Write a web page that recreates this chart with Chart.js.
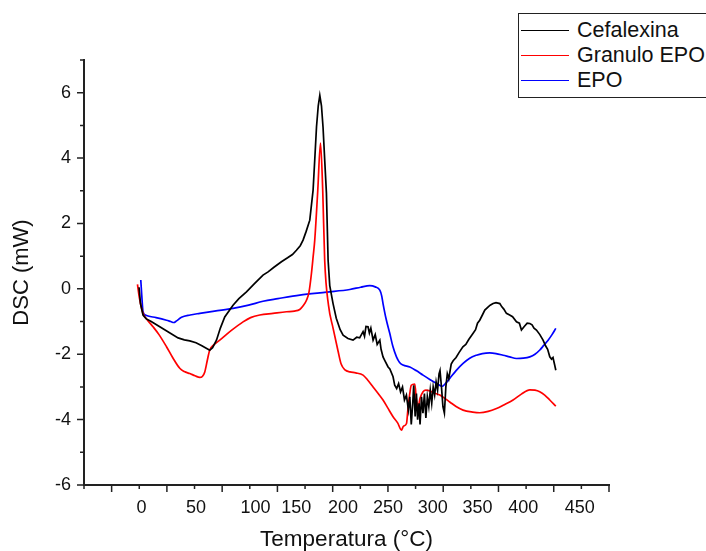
<!DOCTYPE html>
<html>
<head>
<meta charset="utf-8">
<script src="https://cdn.jsdelivr.net/npm/chart.js@4.4.1/dist/chart.umd.min.js"></script>
<style>
  html, body { margin: 0; padding: 0; background: #fff; overflow: hidden; }
  #wrap { position: relative; width: 706px; height: 551px; }
  #legend {
    position: absolute; left: 518px; top: 13px; width: 200px; height: 85px;
    border: 1px solid #222; box-sizing: border-box; background: #fff;
    font-family: 'Liberation Sans', Arial, sans-serif; font-size: 21.5px; color: #111;
  }
  #legend .item { position: absolute; left: 2px; display: flex; align-items: center; height: 24px; white-space: nowrap; }
  #legend .sw { width: 48px; height: 0; border-top: 1.5px solid; margin-right: 8px; }
</style>
</head>
<body>
<div id="wrap">
  <canvas id="dscChart" width="706" height="551"></canvas>
  <div id="legend"></div>
</div>
<script>
// DSC curves (temperature in °C, heat flow in mW)
const cefalexinaT = [-2.5, -1, 1.6, 5, 10, 18.8, 28, 37.6, 44, 49.6, 56, 62, 70.1, 73, 77, 81, 85.5, 94, 100, 107.8,
  116, 124.8, 130, 136, 143.7, 150, 155, 159.1, 163, 165.9, 169, 172.8, 176.2, 178, 179.7, 181.5, 183.1, 184.8, 186.4, 188.2,
  189.9, 191.6, 193.3, 196.7, 200, 204, 207, 212, 217.2, 221, 224, 227.5, 229, 230.5, 232.6, 234, 235.5, 237.8, 240, 242,
  244.7, 246, 248, 250, 253.2, 255, 258.3, 260, 262, 264, 266, 268, 270, 272, 274, 275.5, 277, 278.5, 279.5, 281,
  282.3, 283.5, 285, 286, 287.5, 289, 290.5, 292, 293.5, 295, 296.5, 298, 299.5, 301, 302.5, 304, 305.5, 306.5, 308, 309.5,
  311, 312.5, 314, 315.5, 318, 320, 323, 326, 330, 333, 336, 340.5, 343, 345, 347.3, 350, 352.5, 356, 358, 361,
  364, 367.9, 370, 372, 374.7, 378, 381, 385, 388, 390.1, 393, 396, 398.7, 401, 403, 405.5, 409, 412.3, 415, 417,
  419.2, 421, 422.5, 424, 425.4];
const cefalexinaDSC = [0.05, -0.45, -0.8, -0.92, -1.0, -1.16, -1.33, -1.5, -1.56, -1.59, -1.65, -1.74, -1.88, -1.8, -1.57, -1.2, -0.86, -0.5, -0.3, -0.09,
  0.16, 0.42, 0.52, 0.66, 0.83, 0.95, 1.05, 1.18, 1.32, 1.49, 1.75, 2.1, 3.02, 4.0, 4.95, 5.6, 5.92, 5.6, 4.95, 3.9,
  2.92, 0.88, 0.1, -0.45, -0.9, -1.25, -1.42, -1.52, -1.57, -1.48, -1.5, -1.31, -1.45, -1.15, -1.16, -1.35, -1.2, -1.57, -1.4, -1.7,
  -1.57, -1.85, -2.08, -2.2, -2.39, -2.45, -2.69, -2.95, -3.05, -2.9, -3.15, -3.0, -3.4, -3.25, -3.7, -3.3, -4.15, -3.5, -2.95, -3.9,
  -3.2, -4.0, -3.5, -4.15, -3.3, -3.8, -3.2, -3.95, -3.3, -3.6, -3.1, -3.5, -3.0, -3.25, -2.85, -3.1, -2.6, -2.5, -3.0, -3.6,
  -3.8, -3.0, -2.6, -2.75, -2.3, -2.2, -2.1, -1.95, -1.77, -1.7, -1.55, -1.36, -1.25, -1.05, -0.96, -0.8, -0.65, -0.55, -0.5, -0.45,
  -0.42, -0.45, -0.55, -0.62, -0.75, -0.8, -0.85, -1.01, -1.05, -1.26, -1.15, -1.05, -1.06, -1.1, -1.2, -1.26, -1.4, -1.57, -1.75, -1.85,
  -2.08, -2.15, -2.1, -2.3, -2.49];

const granuloT = [-4.1, -2, 1.6, 6, 11.9, 18, 25.7, 32, 39.3, 44, 49.6, 55, 59.9, 62.5, 65, 67.5, 70.1, 74, 80.4, 92,
  104.3, 112, 121.5, 135, 148.9, 157, 162.5, 166, 169.4, 172, 174.5, 176.3, 177.9, 181, 183.8, 186.1, 188.1, 192, 196.7, 201.8,
  205, 209, 214, 220, 227.5, 232, 237.8, 243, 248, 253, 258.3, 263, 266.9, 269, 272.1, 273.5, 275.5, 277, 280.6, 282.3,
  284, 286, 289.1, 292, 296, 300, 306.3, 310, 316.5, 323, 330.2, 340, 347.3, 356, 364.5, 372, 381.5, 390, 398.7, 404,
  408.9, 414, 419.2, 425.4];
const granuloDSC = [0.14, -0.3, -0.75, -0.95, -1.16, -1.4, -1.77, -2.1, -2.43, -2.53, -2.59, -2.66, -2.71, -2.68, -2.54, -2.2, -1.87, -1.72, -1.57, -1.28,
  -1.01, -0.88, -0.8, -0.75, -0.7, -0.68, -0.63, -0.52, -0.35, -0.1, 0.47, 1.0, 1.49, 3.01, 4.46, 3.01, 0.88, -0.5, -1.2, -1.9,
  -2.3, -2.48, -2.54, -2.57, -2.64, -2.78, -3.0, -3.2, -3.4, -3.65, -3.91, -4.1, -4.32, -4.2, -4.12, -3.7, -3.2, -2.95, -2.91, -3.4,
  -3.61, -3.35, -3.15, -3.1, -3.12, -3.18, -3.25, -3.32, -3.46, -3.6, -3.71, -3.77, -3.79, -3.75, -3.66, -3.55, -3.4, -3.22, -3.09, -3.1,
  -3.15, -3.25, -3.4, -3.59];

const epoT = [-0.7, 0.3, 1.6, 4, 6.8, 15, 25.7, 30, 33.2, 36, 41.1, 50, 59.9, 75, 94, 110, 124.8, 140, 162.5, 190,
  213.9, 225, 234.4, 240, 244.7, 246.5, 248, 251, 254.9, 258, 261.8, 265, 268.6, 275.5, 282, 289.1, 296, 302.9, 309, 312,
  316.5, 323, 330.2, 337, 343.9, 350, 357.6, 364, 371.3, 378, 385, 392, 398.7, 404, 409, 413, 417.5, 421.5, 425.4];
const epoDSC = [0.27, -0.2, -0.7, -0.8, -0.83, -0.88, -0.96, -1.0, -1.03, -0.98, -0.87, -0.8, -0.75, -0.68, -0.6, -0.5, -0.38, -0.3, -0.19, -0.1,
  -0.02, 0.05, 0.1, 0.06, -0.04, -0.2, -0.45, -0.9, -1.36, -1.75, -2.08, -2.25, -2.33, -2.39, -2.5, -2.64, -2.77, -2.89, -2.98, -2.9,
  -2.74, -2.5, -2.28, -2.12, -2.03, -1.98, -1.96, -1.98, -2.03, -2.08, -2.13, -2.12, -2.08, -2.0, -1.87, -1.73, -1.57, -1.4, -1.21];

// axis ranges and tick labels
const X_MIN = -59, X_MAX = 480, X_DIVISIONS = 19;
const Y_MIN = -6, Y_MAX = 7;
const xTickLabels = ['0', '50', '100', '150', '200', '250', '300', '350', '400', '450'];
const xTickValues = [0, 56, 117, 159, 207, 253, 299, 345, 392, 450];

const FONT = "'Liberation Sans', Arial, sans-serif";
const AXIS_COLOR = '#222';

function toPoints(xs, ys) {
  return xs.map((x, i) => ({ x: x, y: ys[i] }));
}

// major/minor tick marks on the outside of both axes
const tickMarks = {
  id: 'tickMarks',
  afterDraw(chart) {
    const { ctx, chartArea, scales } = chart;
    const step = (X_MAX - X_MIN) / X_DIVISIONS;
    ctx.save();
    ctx.strokeStyle = AXIS_COLOR;
    ctx.lineWidth = 1.5;
    ctx.beginPath();
    for (let k = 0; k <= X_DIVISIONS; k++) {
      const px = scales.x.getPixelForValue(X_MIN + k * step);
      const len = k % 2 ? 7 : 4;
      ctx.moveTo(px, chartArea.bottom);
      ctx.lineTo(px, chartArea.bottom + len);
    }
    for (let v = Y_MIN; v <= Y_MAX; v++) {
      const py = scales.y.getPixelForValue(v);
      const len = v % 2 === 0 ? 7 : 4;
      ctx.moveTo(chartArea.left, py);
      ctx.lineTo(chartArea.left - len, py);
    }
    ctx.stroke();
    ctx.restore();
  }
};

const chart = new Chart(document.getElementById('dscChart'), {
  type: 'line',
  data: {
    datasets: [
      { label: 'Cefalexina', data: toPoints(cefalexinaT, cefalexinaDSC), borderColor: '#000', borderWidth: 1.7, tension: 0 },
      { label: 'Granulo EPO', data: toPoints(granuloT, granuloDSC), borderColor: '#ff0000', borderWidth: 1.7, cubicInterpolationMode: 'monotone' },
      { label: 'EPO', data: toPoints(epoT, epoDSC), borderColor: '#0000ff', borderWidth: 1.7, cubicInterpolationMode: 'monotone' }
    ]
  },
  options: {
    responsive: false,
    animation: false,
    layout: { padding: { top: 60, right: 97, left: 0, bottom: 0 } },
    elements: { point: { radius: 0 } },
    plugins: { legend: { display: false }, tooltip: { enabled: false } },
    scales: {
      x: {
        type: 'linear',
        min: X_MIN,
        max: X_MAX,
        afterBuildTicks: axis => { axis.ticks = xTickValues.map(v => ({ value: v })); },
        afterFit: scale => { scale.height = 66; },
        grid: { drawOnChartArea: false, drawTicks: false },
        border: { color: AXIS_COLOR, width: 2 },
        ticks: {
          autoSkip: false, maxRotation: 0, padding: 12, color: '#111',
          font: { family: FONT, size: 18 },
          callback: (value, index) => xTickLabels[index]
        },
        title: { display: true, text: 'Temperatura (°C)', color: '#111', font: { family: FONT, size: 22.5, lineHeight: 1 }, padding: { top: 0, bottom: 0 } }
      },
      y: {
        type: 'linear',
        min: Y_MIN,
        max: Y_MAX,
        afterFit: scale => { scale.width = 84; },
        grid: { drawOnChartArea: false, drawTicks: false },
        border: { color: AXIS_COLOR, width: 2 },
        ticks: {
          stepSize: 1, padding: 13, color: '#111',
          font: { family: FONT, size: 18 },
          callback: value => (value % 2 === 0 ? value : '')
        },
        title: { display: true, text: 'DSC (mW)', color: '#111', font: { family: FONT, size: 22, lineHeight: 1 }, padding: { top: 11, bottom: 0 } }
      }
    }
  },
  plugins: [tickMarks]
});

// legend box in the top right corner
const legend = document.getElementById('legend');
chart.data.datasets.forEach((ds, i) => {
  const item = document.createElement('div');
  item.className = 'item';
  item.style.top = (4 + i * 25.3) + 'px';
  item.innerHTML = `<span class="sw" style="border-color:${ds.borderColor}"></span><span>${ds.label}</span>`;
  legend.appendChild(item);
});
</script>
</body>
</html>
